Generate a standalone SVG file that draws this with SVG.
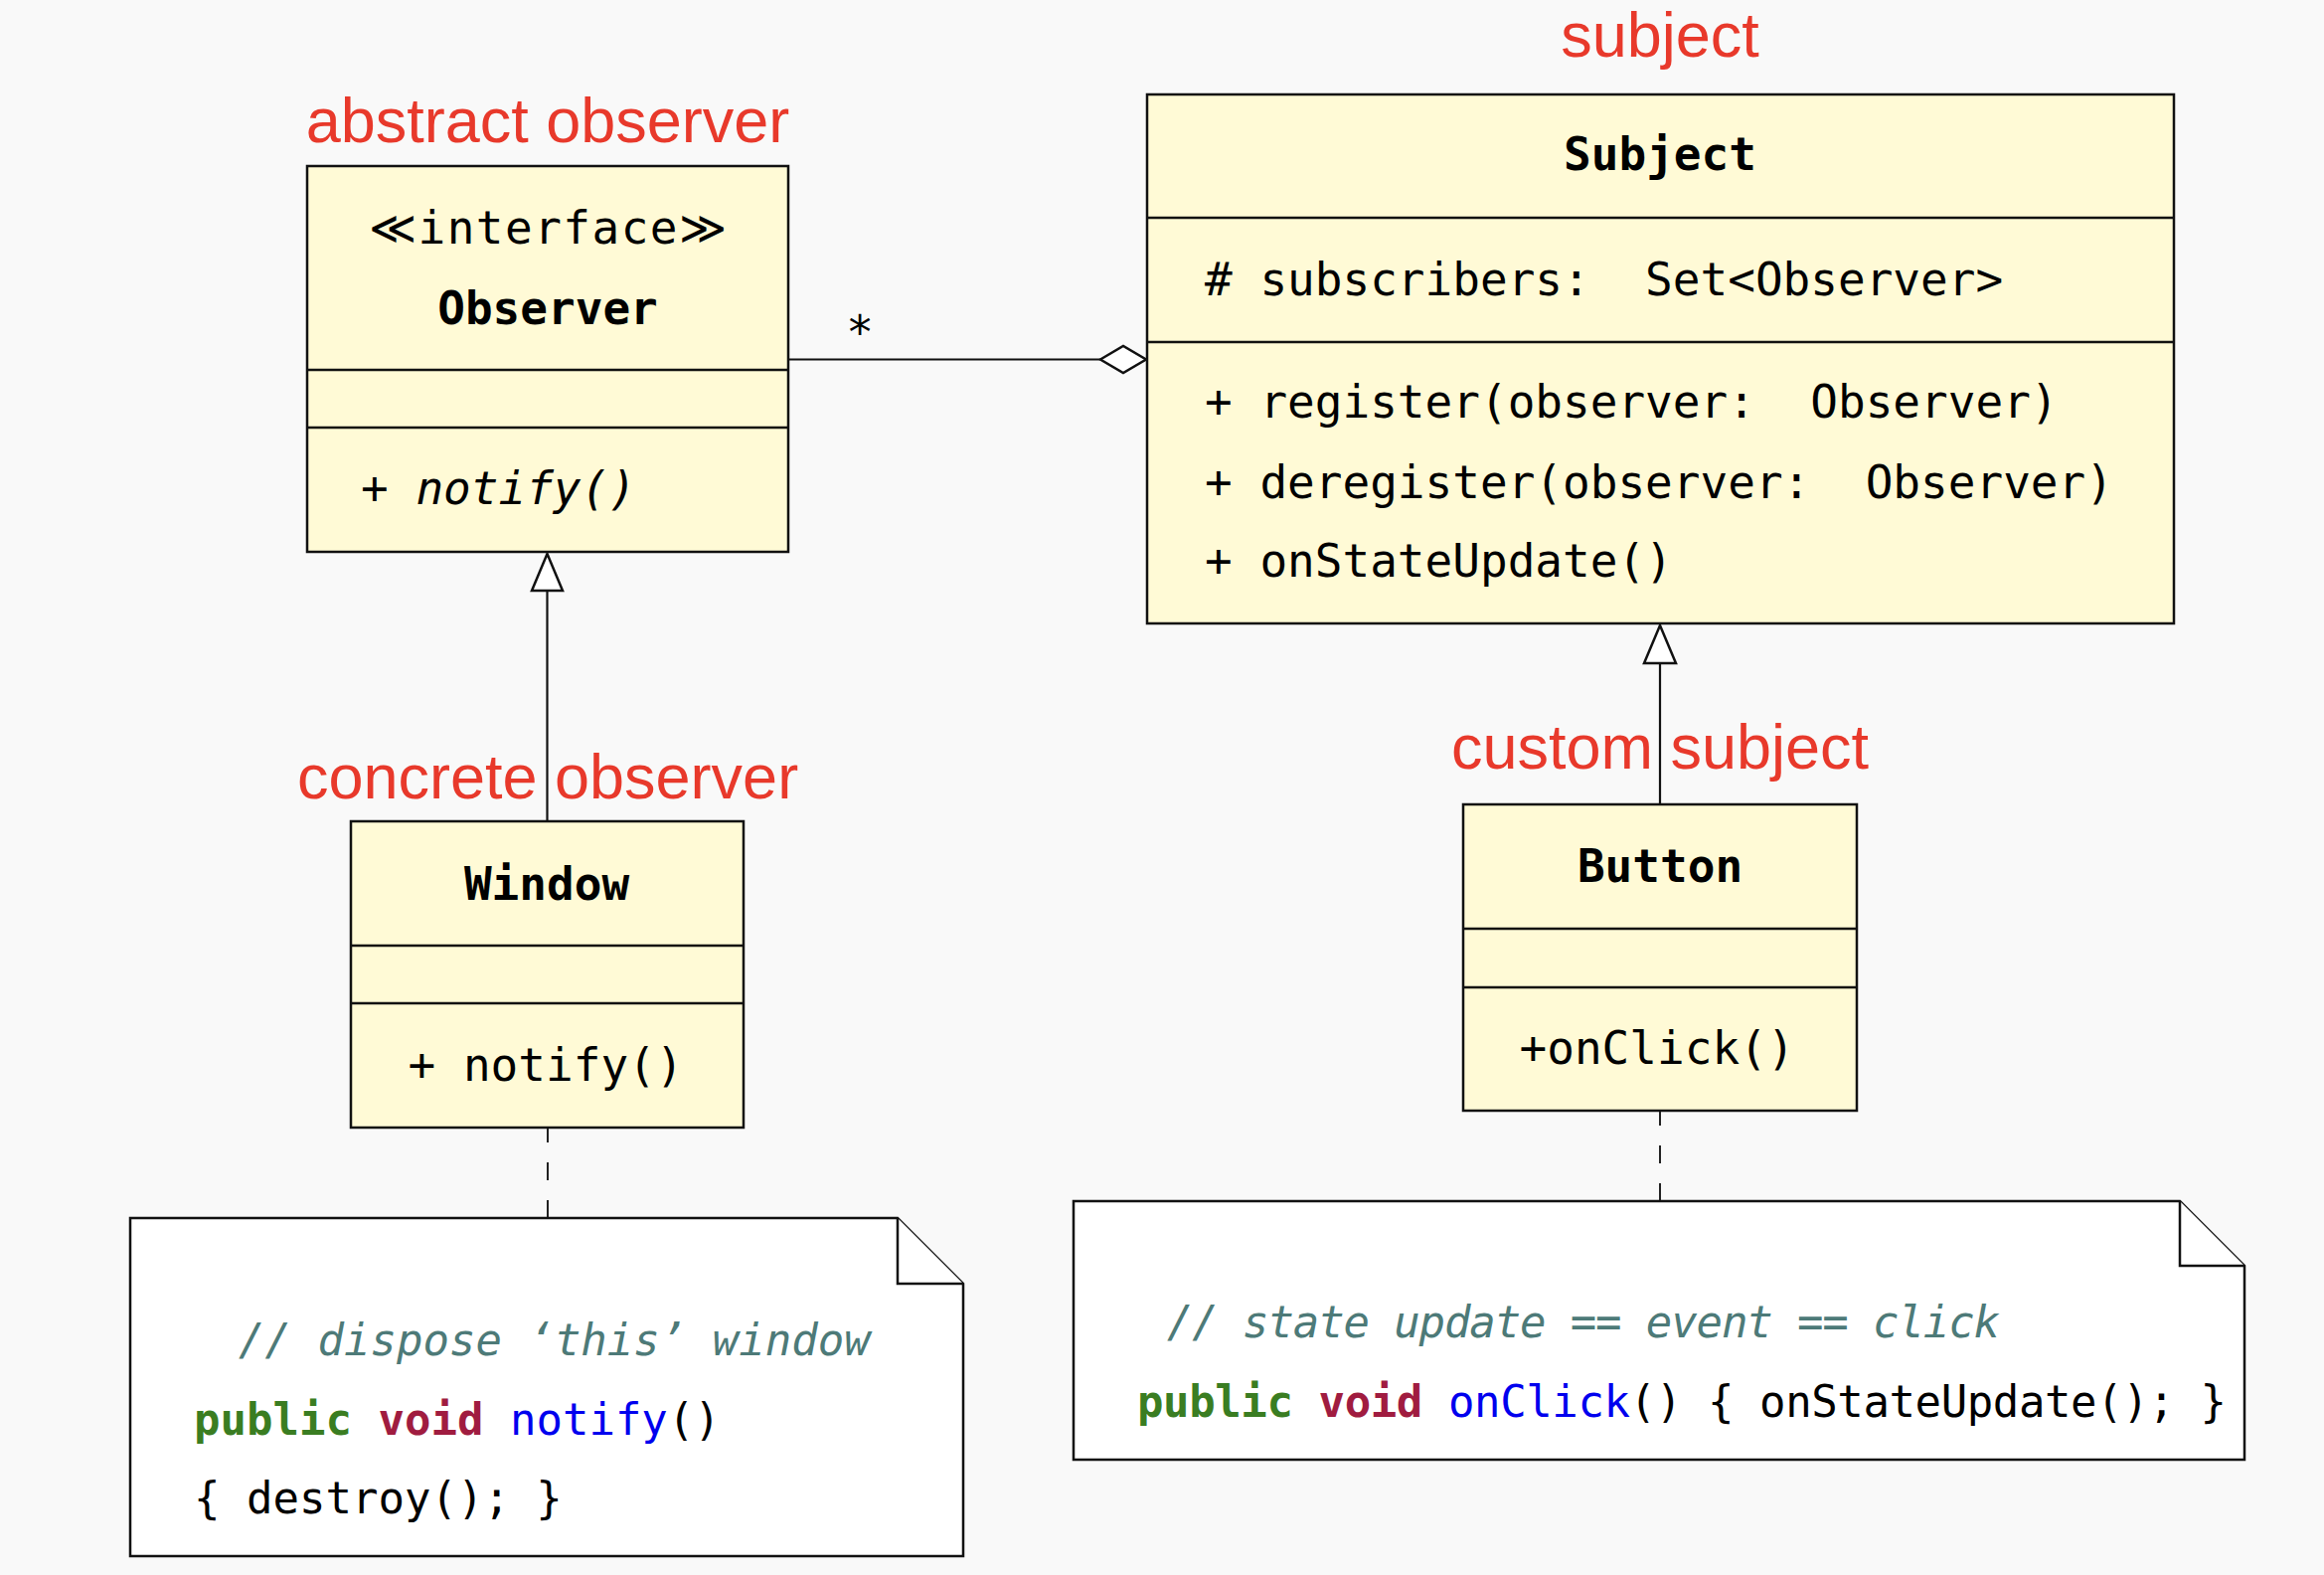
<svg xmlns="http://www.w3.org/2000/svg" width="2338" height="1584" viewBox="0 0 2338 1584">
<defs>
<style>
.bg{fill:#f9f9f9}
.box{fill:#fffad6;stroke:#111;stroke-width:2.5}
.div{stroke:#111;stroke-width:2.5}
.note{fill:#ffffff;stroke:#111;stroke-width:2.5;stroke-linejoin:miter}
.lbl{font-family:"Liberation Sans",Arial,sans-serif;font-size:63px;fill:#e8392b}
.m{font-family:"DejaVu Sans Mono","Liberation Mono",monospace;font-size:46px;fill:#000;white-space:pre}
.b{font-weight:bold}
.i{font-style:italic}
.c{font-family:"DejaVu Sans Mono","Liberation Mono",monospace;font-size:44px;fill:#000;white-space:pre}
.cm{fill:#4d7a78;font-style:italic}
.kw1{fill:#3a7d22;font-weight:bold}
.kw2{fill:#a01c40;font-weight:bold}
.fn{fill:#0000ee}
.ln{stroke:#111;stroke-width:2.2;fill:none}
.dash{stroke:#222;stroke-width:2;fill:none;stroke-dasharray:18 20}
.head{fill:#ffffff;stroke:#111;stroke-width:2.5;stroke-linejoin:miter}
</style>
</defs>
<rect class="bg" x="0" y="0" width="2338" height="1584"/>

<g id="labels">
<text class="lbl" x="551" y="143" text-anchor="middle">abstract observer</text>
<text class="lbl" x="1670" y="57" text-anchor="middle">subject</text>
<text class="lbl" x="551" y="803" text-anchor="middle">concrete observer</text>
<text class="lbl" x="1670" y="773" text-anchor="middle">custom subject</text>
</g>

<g id="connectors">
<line class="ln" x1="793" y1="361.5" x2="1107" y2="361.5"/>
<polygon class="head" points="1107,361.5 1130,348 1153,361.5 1130,375"/>
<text class="m" x="865" y="350" text-anchor="middle">*</text>
<line class="ln" x1="550.5" y1="826" x2="550.5" y2="594"/>
<polygon class="head" points="550.5,557 535,594 566,594"/>
<line class="ln" x1="1670" y1="809" x2="1670" y2="667"/>
<polygon class="head" points="1670,629 1654,667 1686,667"/>
<path class="dash" d="M551,1225 V1134"/>
<path class="dash" d="M1670,1208 V1117"/>
</g>

<g id="observer">
<rect class="box" x="309" y="167" width="484" height="388"/>
<line class="div" x1="309" y1="372" x2="793" y2="372"/>
<line class="div" x1="309" y1="430" x2="793" y2="430"/>
<text class="m" x="551" y="245" text-anchor="middle" textLength="360" lengthAdjust="spacing">≪interface≫</text>
<text class="m b" x="551" y="326" text-anchor="middle">Observer</text>
<text class="m i" x="363" y="507">+ notify()</text>
</g>

<g id="subject">
<rect class="box" x="1154" y="95" width="1033" height="532"/>
<line class="div" x1="1154" y1="219" x2="2187" y2="219"/>
<line class="div" x1="1154" y1="344" x2="2187" y2="344"/>
<text class="m b" x="1670" y="171" text-anchor="middle">Subject</text>
<text class="m" x="1212" y="297" xml:space="preserve"># subscribers:  Set&lt;Observer&gt;</text>
<text class="m" x="1212" y="420" xml:space="preserve">+ register(observer:  Observer)</text>
<text class="m" x="1212" y="501" xml:space="preserve">+ deregister(observer:  Observer)</text>
<text class="m" x="1212" y="580">+ onStateUpdate()</text>
</g>

<g id="window">
<rect class="box" x="353" y="826" width="395" height="308"/>
<line class="div" x1="353" y1="951" x2="748" y2="951"/>
<line class="div" x1="353" y1="1009" x2="748" y2="1009"/>
<text class="m b" x="550" y="905" text-anchor="middle">Window</text>
<text class="m" x="549" y="1087" text-anchor="middle">+ notify()</text>
</g>

<g id="button">
<rect class="box" x="1472" y="809" width="396" height="308"/>
<line class="div" x1="1472" y1="934" x2="1868" y2="934"/>
<line class="div" x1="1472" y1="993" x2="1868" y2="993"/>
<text class="m b" x="1670" y="887" text-anchor="middle">Button</text>
<text class="m" x="1667" y="1070" text-anchor="middle">+onClick()</text>
</g>

<g id="note-window">
<path class="note" d="M131,1225 H903 L969,1291 V1565 H131 Z"/>
<path class="note" d="M903,1225 V1291 H969"/>
<text class="c cm" x="240" y="1363">// dispose ‘this’ window</text>
<text class="c" x="195" y="1443" xml:space="preserve"><tspan class="kw1">public</tspan> <tspan class="kw2">void</tspan> <tspan class="fn">notify</tspan>()</text>
<text class="c" x="195" y="1522" xml:space="preserve">{ destroy(); }</text>
</g>

<g id="note-button">
<path class="note" d="M1080,1208 H2193 L2258,1273 V1468 H1080 Z"/>
<path class="note" d="M2193,1208 V1273 H2258"/>
<text class="c cm" x="1174" y="1345" textLength="838" lengthAdjust="spacing">// state update == event == click</text>
<text class="c" x="1144" y="1425" xml:space="preserve" textLength="1096" lengthAdjust="spacing"><tspan class="kw1">public</tspan> <tspan class="kw2">void</tspan> <tspan class="fn">onClick</tspan>() { onStateUpdate(); }</text>
</g>
</svg>
